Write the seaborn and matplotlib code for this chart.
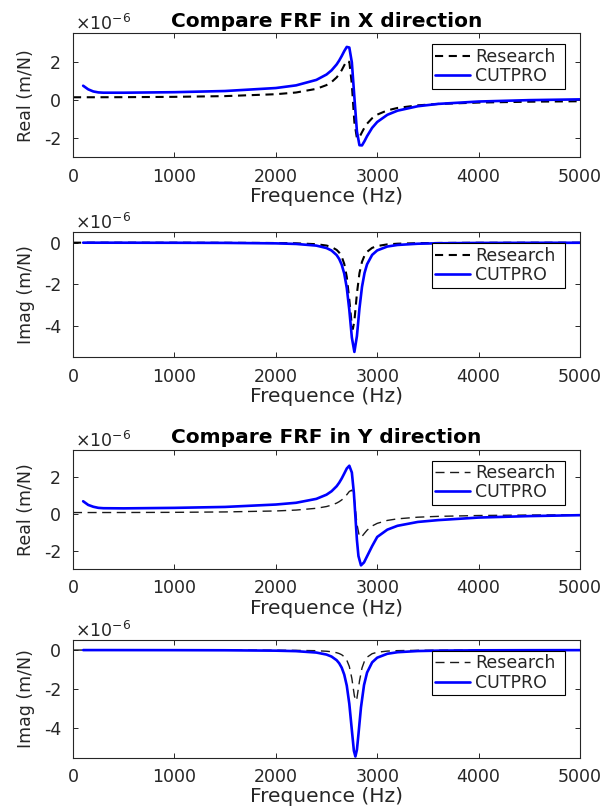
import matplotlib
matplotlib.use("Agg")
import matplotlib.pyplot as plt
import seaborn as sns

# FRF values in 1e-6 m/N
# ---- X direction ----
freq_res_x = [0, 200, 500, 1000, 1500, 2000, 2200, 2400, 2500, 2550, 2600, 2625, 2650, 2675, 2700,
              2725, 2750, 2760, 2775, 2800, 2825, 2850, 2875, 2900, 2950, 3000, 3100, 3200, 3400,
              3600, 4000, 4500, 5000]
real_res_x = [0.145, 0.146, 0.150, 0.167, 0.206, 0.305, 0.395, 0.586, 0.783, 0.944, 1.186, 1.355,
              1.565, 1.820, 2.064, 1.998, 0.827, 0.0, -1.164, -2.003, -1.945, -1.686, -1.440,
              -1.239, -0.953, -0.765, -0.542, -0.415, -0.278, -0.206, -0.132, -0.087, -0.064]
imag_res_x = [0.0, -0.0004, -0.001, -0.002, -0.006, -0.016, -0.030, -0.073, -0.138, -0.209,
              -0.347, -0.473, -0.673, -1.017, -1.643, -2.740, -3.988, -4.143, -3.760, -2.437,
              -1.462, -0.920, -0.617, -0.438, -0.250, -0.161, -0.082, -0.049, -0.023, -0.013,
              -0.006, -0.003, -0.002]

freq_cut_x = [100, 150, 200, 250, 300, 500, 1000, 1500, 2000, 2200, 2400, 2500, 2550, 2600, 2625,
              2650, 2675, 2700, 2725, 2750, 2775, 2800, 2825, 2850, 2875, 2900, 2950, 3000, 3100,
              3200, 3400, 3600, 4000, 4500, 5000]
real_cut_x = [0.75, 0.56, 0.45, 0.40, 0.385, 0.384, 0.411, 0.473, 0.629, 0.769, 1.055, 1.337,
              1.557, 1.866, 2.069, 2.305, 2.564, 2.784, 2.751, 1.973, 0.140, -1.647, -2.368,
              -2.377, -2.151, -1.892, -1.458, -1.151, -0.774, -0.558, -0.325, -0.203, -0.078,
              -0.005, 0.035]
imag_cut_x = [-0.001, -0.001, -0.001, -0.001, -0.001, -0.002, -0.005, -0.011, -0.033, -0.061,
              -0.141, -0.258, -0.377, -0.596, -0.781, -1.056, -1.485, -2.170, -3.231, -4.555,
              -5.244, -4.484, -3.160, -2.123, -1.456, -1.037, -0.587, -0.372, -0.185, -0.110,
              -0.051, -0.029, -0.013, -0.007, -0.004]

# ---- Y direction ----
freq_res_y = [0, 500, 1000, 1500, 2000, 2200, 2400, 2500, 2550, 2600, 2625, 2650, 2675, 2700, 2725,
              2750, 2775, 2790, 2800, 2825, 2850, 2875, 2900, 2950, 3000, 3100, 3200, 3400, 3600,
              4000, 4500, 5000]
real_res_y = [0.083, 0.086, 0.095, 0.117, 0.170, 0.219, 0.316, 0.412, 0.489, 0.600, 0.677, 0.773,
              0.898, 1.056, 1.234, 1.308, 0.790, 0.0, -0.550, -1.242, -1.220, -1.045, -0.881,
              -0.650, -0.507, -0.346, -0.260, -0.170, -0.125, -0.079, -0.052, -0.038]
imag_res_y = [0.0, -0.001, -0.001, -0.003, -0.008, -0.015, -0.033, -0.060, -0.087, -0.136, -0.178,
              -0.240, -0.341, -0.515, -0.837, -1.450, -2.342, -2.594, -2.461, -1.594, -0.917,
              -0.557, -0.365, -0.186, -0.112, -0.052, -0.030, -0.013, -0.008, -0.003, -0.002,
              -0.001]

freq_cut_y = [100, 150, 200, 250, 300, 500, 1000, 1500, 2000, 2200, 2400, 2500, 2550, 2600, 2625,
              2650, 2675, 2700, 2725, 2750, 2770, 2785, 2800, 2815, 2840, 2870, 2900, 2950, 3000,
              3100, 3200, 3400, 3600, 4000, 4500, 5000]
real_cut_y = [0.70, 0.50, 0.40, 0.34, 0.32, 0.312, 0.339, 0.390, 0.521, 0.617, 0.831, 1.059, 1.247,
              1.520, 1.712, 1.944, 2.213, 2.490, 2.640, 2.270, 1.153, -0.140, -1.414, -2.290,
              -2.800, -2.640, -2.305, -1.750, -1.250, -0.850, -0.640, -0.430, -0.330, -0.190,
              -0.110, -0.060]
imag_cut_y = [-0.001, -0.001, -0.001, -0.001, -0.001, -0.002, -0.005, -0.011, -0.031, -0.056,
              -0.128, -0.230, -0.333, -0.519, -0.673, -0.900, -1.255, -1.820, -2.750, -4.090,
              -5.146, -5.440, -5.094, -4.310, -2.930, -1.790, -1.150, -0.630, -0.390, -0.190,
              -0.110, -0.050, -0.030, -0.013, -0.007, -0.004]

x_ticks = [0, 1000, 2000, 3000, 4000, 5000]
real_ticks = [-2, 0, 2]
imag_ticks = [-4, -2, 0]

GREY = '#262626'

sns.set_style('ticks')
plt.rcParams['font.family'] = ['DejaVu Sans']
plt.rcParams['axes.unicode_minus'] = False
plt.rcParams['axes.edgecolor'] = GREY
plt.rcParams['axes.linewidth'] = 0.8
plt.rcParams['xtick.direction'] = 'in'
plt.rcParams['ytick.direction'] = 'in'
plt.rcParams['xtick.top'] = True
plt.rcParams['ytick.right'] = True
plt.rcParams['xtick.color'] = GREY
plt.rcParams['ytick.color'] = GREY


def framePanel(ax, fRes, yRes, fCut, yCut, yName, ylim, yticks, dashLw, dashStyle, dashColor,
               graphName=None):
    sns.lineplot(x=fRes, y=yRes, ax=ax, color=dashColor, linewidth=dashLw,
                 linestyle=dashStyle, label='Research', legend=False)
    sns.lineplot(x=fCut, y=yCut, ax=ax, color='#0000ff', linewidth=1.9,
                 label='CUTPRO', legend=False)

    ax.set_xlim(0, 5000)
    ax.set_ylim(*ylim)
    ax.set_xticks(x_ticks)
    ax.set_yticks(yticks)
    ax.tick_params(axis='both', labelsize=12.5, length=3.5, width=0.7, labelcolor=GREY)
    ax.tick_params(axis='x', pad=7.5)
    ax.tick_params(axis='y', pad=8.5)
    ax.set_xlabel('Frequence (Hz)', fontsize=14.5, color=GREY, labelpad=1.0)
    ax.set_ylabel(yName, fontsize=12.5, color=GREY, labelpad=6.5)
    if graphName:
        ax.set_title(graphName, fontsize=14.5, fontweight='bold', color='black', pad=4.75)

    # exponent label like MATLAB's axis multiplier
    ax.annotate('×10$^{-6}$', xy=(0, 1), xycoords='axes fraction', xytext=(1.5, 2.5),
                textcoords='offset points', fontsize=12.5, color=GREY, ha='left', va='baseline')

    leg = ax.legend(loc='upper right', bbox_to_anchor=(0.7075, 0, 0.263, 0.911), mode='expand',
                    borderaxespad=0, fontsize=12.5, frameon=True, fancybox=False, framealpha=1,
                    edgecolor='black', handlelength=2.0, handletextpad=0.3,
                    borderpad=0.2, labelspacing=0.08)
    leg.get_frame().set_linewidth(0.8)


fig = plt.figure(figsize=(6.14, 8.07), dpi=100)
left, width = 73 / 614, 507 / 614
ax1 = fig.add_axes([left, 0.8051, width, 0.1537])
ax2 = fig.add_axes([left, 0.5573, width, 0.1549])
ax3 = fig.add_axes([left, 0.2949, width, 0.1475])
ax4 = fig.add_axes([left, 0.0611, width, 0.1455])

framePanel(ax1, freq_res_x, real_res_x, freq_cut_x, real_cut_x, 'Real (m/N)', (-3, 3.5),
           real_ticks, 1.5, (0, (3.9, 2.7)), 'black', 'Compare FRF in X direction')
framePanel(ax2, freq_res_x, imag_res_x, freq_cut_x, imag_cut_x, 'Imag (m/N)', (-5.5, 0.5),
           imag_ticks, 1.5, (0, (3.9, 2.7)), 'black')
framePanel(ax3, freq_res_y, real_res_y, freq_cut_y, real_cut_y, 'Real (m/N)', (-3, 3.5),
           real_ticks, 1.0, (0, (6.5, 4)), '#1a1a1a', 'Compare FRF in Y direction')
framePanel(ax4, freq_res_y, imag_res_y, freq_cut_y, imag_cut_y, 'Imag (m/N)', (-5.5, 0.5),
           imag_ticks, 1.0, (0, (6.5, 4)), '#1a1a1a')

fig.savefig('out.png', dpi=100)
